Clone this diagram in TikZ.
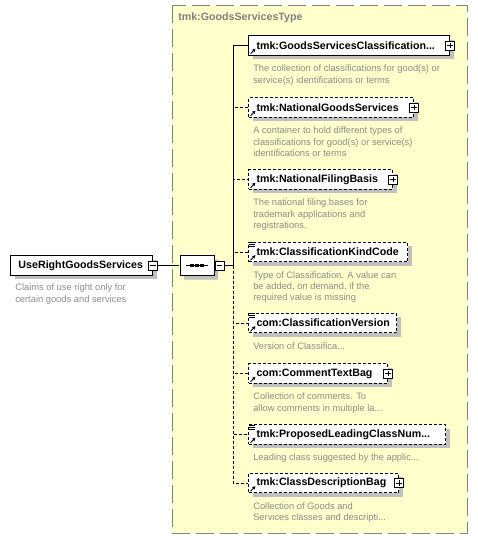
\documentclass[tikz,border=0pt]{standalone}
\usepackage{fontspec}
\setmainfont{Liberation Sans}
\usetikzlibrary{arrows.meta, positioning, shapes.misc, shadows}
\definecolor{PaleYellow}{HTML}{FFFFCC}
\definecolor{FrameGray}{HTML}{808080}
\definecolor{NoteGray}{HTML}{8C8C8C}
\definecolor{ShadowGray}{HTML}{C0C0C0}

\begin{document}
\begin{tikzpicture}[
    x=0.75pt, y=-0.75pt,
    elem/.style={draw=black, line width=0.75pt, fill=white, anchor=west,
        font=\bfseries\fontsize{8}{10}\selectfont, align=left,
        inner xsep=6pt, minimum height=14.5pt,
        drop shadow={shadow xshift=3pt, shadow yshift=-3pt,
            fill=ShadowGray, opacity=1}},
    optelem/.style={elem, dash pattern=on 2.25pt off 1.5pt},
    note/.style={text=NoteGray, font=\fontsize{7}{8.5}\selectfont,
        align=left, inner sep=0pt},
    title/.style={text=FrameGray, font=\bfseries\fontsize{8}{10}\selectfont,
        anchor=west, inner sep=0pt},
    frame/.style={draw=FrameGray, line width=0.75pt, fill=PaleYellow,
        dash pattern=on 13.5pt off 4.5pt},
    expand/.style={draw=black, line width=0.6pt, fill=white,
        minimum size=6.75pt, inner sep=0pt},
    minusbox/.style={expand, path picture={
        \draw[line width=0.6pt]
            ([xshift=1.3pt]path picture bounding box.west) --
            ([xshift=-1.3pt]path picture bounding box.east);}},
    plusbox/.style={expand, path picture={
        \draw[line width=0.6pt]
            ([xshift=1.3pt]path picture bounding box.west) --
            ([xshift=-1.3pt]path picture bounding box.east)
            ([yshift=-1.3pt]path picture bounding box.north) --
            ([yshift=1.3pt]path picture bounding box.south);}},
    seqbox/.style={chamfered rectangle, chamfered rectangle xsep=3.5pt,
        draw=black, line width=0.75pt, fill=white,
        minimum width=25.5pt, minimum height=15pt, inner sep=0pt,
        drop shadow={shadow xshift=3pt, shadow yshift=-3pt,
            fill=ShadowGray, opacity=1}},
    dot/.style={fill=black, minimum size=2.6pt, inner sep=0pt},
    link/.style={draw=black, line width=0.75pt},
    optlink/.style={dash pattern=on 2.25pt off 1.5pt},
    refarrow/.style={-{Triangle[length=2.4pt,width=2.4pt]}, line width=0.7pt},
]
\useasboundingbox (0,0) rectangle (478,540);

% tipo complejo
\draw[frame] (172,5) rectangle (467,533);
\node[title] (gstype) at (178,18) {tmk:GoodsServicesType};

% elemento raiz
\node[elem, text width=94.5pt] (root) at (10,265.5) {UseRightGoodsServices};
\node[note, below right=6pt and 3.75pt of root.south west] (rootnote)
    {Claims of use right only for\\certain goods and services};
\node[minusbox] (rootx) at (root.east) {};

% secuencia
\node[seqbox] (seq) at (197,265.5) {};
\draw[line width=0.75pt] ([xshift=-8.25pt]seq.center) -- ([xshift=8.25pt]seq.center);
\foreach \dx in {-3.75,0,3.75}
    \node[dot] at ([xshift=\dx pt]seq.center) {};
\node[minusbox, right=0pt of seq.east] (seqx) {};
\coordinate (jn) at (233,265.5);

% hijos
\node[elem, text width=138.75pt] (c1) at (248,45.5) {tmk:GoodsServicesClassification...};
\node[note, below right=6.75pt and 3.75pt of c1.south west] (n1)
    {The collection of classifications for good(s) or\\service(s) identifications or terms};

\node[optelem, text width=111.75pt] (c2) at (248,107.5) {tmk:NationalGoodsServices};
\node[note, below right=6.75pt and 3.75pt of c2.south west] (n2)
    {A container to hold different types of\\classifications for good(s) or service(s)\\identifications or terms};

\node[optelem, text width=96pt] (c3) at (248,179.5) {tmk:NationalFilingBasis};
\node[note, below right=6.75pt and 3.75pt of c3.south west] (n3)
    {The national filing bases for\\trademark applications and\\registrations.};

\node[optelem, text width=107.25pt] (c4) at (248,252) {tmk:ClassificationKindCode};
\node[note, below right=6.75pt and 3.75pt of c4.south west] (n4)
    {Type of Classification. A value can\\be added, on demand, if the\\required value is missing};

\node[optelem, text width=99pt] (c5) at (248,323) {com:ClassificationVersion};
\node[note, below right=6.75pt and 3.75pt of c5.south west] (n5)
    {Version of Classifica...};

\node[optelem, text width=92.25pt] (c6) at (248,373.5) {com:CommentTextBag};
\node[note, below right=6.75pt and 3.75pt of c6.south west] (n6)
    {Collection of comments. To\\allow comments in multiple la...};

\node[optelem, text width=135.75pt] (c7) at (248,434.5) {tmk:ProposedLeadingClassNum...};
\node[note, below right=6.75pt and 3.75pt of c7.south west] (n7)
    {Leading class suggested by the applic...};

\node[optelem, text width=100.5pt] (c8) at (248,483) {tmk:ClassDescriptionBag};
\node[note, below right=6.75pt and 3.75pt of c8.south west] (n8)
    {Collection of Goods and\\Services classes and descripti...};

% expansores
\foreach \c in {c1,c2,c3,c6,c8}
    \node[plusbox] (\c-x) at (\c.east) {};

% iconos
\foreach \i in {1,...,8}
    \draw[refarrow] ([shift={(2.5,-2)}]c\i.south west) -- +(5,-5);
\foreach \i in {4,5,7}
    \foreach \dy in {1,3,5}
        \draw[line width=0.7pt] ([shift={(1,\dy)}]c\i.north west) -- +(6,0);

% conexiones
\draw[link] (rootx) -- (seq);
\draw[link] (seqx) -- (jn);
\foreach \i in {2,...,8}
    \draw[link, optlink] (jn) |- (c\i.west);
\draw[link] (jn) |- (c1.west);

\end{tikzpicture}
\end{document}
